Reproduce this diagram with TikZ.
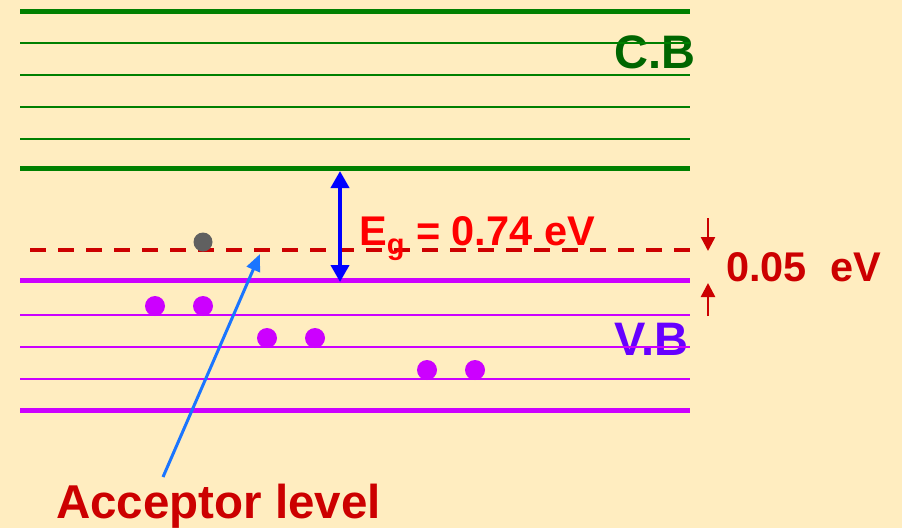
\documentclass[tikz,border=0pt]{standalone}
\usepackage{fontspec}
\setmainfont{Liberation Sans}
\usetikzlibrary{arrows.meta}
\definecolor{bgcol}{HTML}{FFEDC0}
\definecolor{cbgreen}{HTML}{008000}
\definecolor{cbtext}{HTML}{006600}
\definecolor{vbline}{HTML}{CC00FF}
\definecolor{vbtext}{HTML}{6600FF}
\definecolor{darkred}{HTML}{CC0000}
\definecolor{brightred}{HTML}{FF0000}
\definecolor{holegray}{HTML}{606060}
\definecolor{pointer}{HTML}{1A75FF}
\begin{document}
\begin{tikzpicture}[x=1pt,y=-1pt,
  bandthick/.style={line width=5pt},
  bandthin/.style={line width=2pt},
  label/.style={font=\bfseries, inner sep=0pt, anchor=base west},
  carrier/.style={circle, fill=vbline, minimum size=20pt, inner sep=0pt},
  hole/.style={circle, fill=holegray, minimum size=19pt, inner sep=0pt}]
  \fill[bgcol] (0,0) rectangle (902,528);
  \useasboundingbox (0,0) rectangle (902,528);

  % band labels (lines are drawn over them)
  \node[label, text=cbtext, font=\bfseries\fontsize{47}{50}\selectfont] (cb) at (614,68) {C.B};
  \node[label, text=vbtext, font=\bfseries\fontsize{47}{50}\selectfont] (vb) at (614,355) {V.B};

  % conduction band
  \draw[cbgreen, bandthick] (20,11) -- (690,11);
  \foreach \y in {43,75,107,139} \draw[cbgreen, bandthin] (20,\y) -- (690,\y);
  \draw[cbgreen, bandthick] (20,168) -- (690,168);

  % valence band
  \draw[vbline, bandthick] (20,280) -- (690,280);
  \foreach \y in {315,347,379} \draw[vbline, bandthin] (20,\y) -- (690,\y);
  \draw[vbline, bandthick] (20,410) -- (690,410);

  % acceptor level
  \draw[darkred, line width=3.5pt, dash pattern=on 16pt off 12pt] (30,250) -- (690,250);

  % carriers
  \node[hole] (h1) at (203,242) {};
  \node[carrier] (e1) at (155,306) {};
  \node[carrier] (e2) at (203,306) {};
  \node[carrier] (e3) at (267,338) {};
  \node[carrier] (e4) at (315,338) {};
  \node[carrier] (e5) at (427,370) {};
  \node[carrier] (e6) at (475,370) {};

  % band gap
  \coordinate (gtop) at (340,171);
  \coordinate (gbot) at (340,282);
  \draw[blue, line width=4pt, {Triangle[length=17pt,width=18pt]}-{Triangle[length=17pt,width=18pt]}] (gtop) -- (gbot);
  \node[label, text=brightred, font=\bfseries\fontsize{41.5}{45}\selectfont] (eg) at (359,245)
    {E\raisebox{-9pt}{\fontsize{29}{31}\selectfont g} = 0.74 eV};

  % acceptor energy
  \coordinate (a1) at (708,218);
  \coordinate (a2) at (708,251);
  \coordinate (b1) at (708,316);
  \coordinate (b2) at (708,283);
  \draw[darkred, line width=2.5pt, -{Triangle[length=14pt,width=14pt]}] (a1) -- (a2);
  \draw[darkred, line width=2.5pt, -{Triangle[length=14pt,width=14pt]}] (b1) -- (b2);
  \node[label, text=darkred, font=\bfseries\fontsize{41.5}{45}\selectfont] (ea) at (726,281) {0.05\ \ eV};

  % acceptor label and pointer
  \node[label, text=darkred, font=\bfseries\fontsize{47.5}{50}\selectfont] (acc) at (56,518) {Acceptor level};
  \coordinate (ptail) at (163,477);
  \coordinate (phead) at (260,254);
  \draw[pointer, line width=3pt, -{Triangle[length=17pt,width=14pt]}] (ptail) -- (phead);
\end{tikzpicture}
\end{document}
